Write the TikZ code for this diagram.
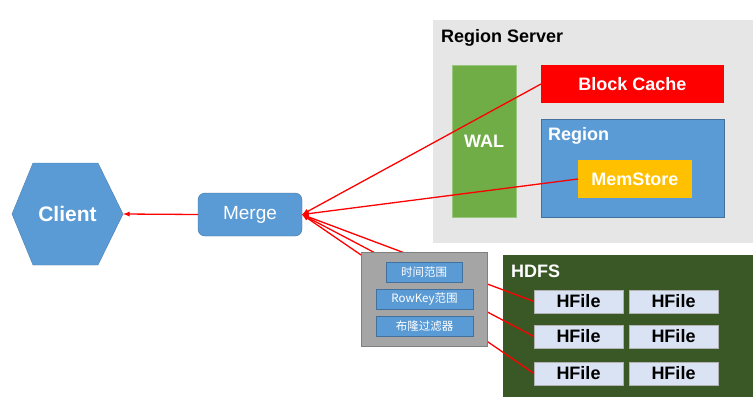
\documentclass[tikz,border=0pt]{standalone}
\usepackage{fontspec}
\setmainfont{Liberation Sans}
\newfontfamily\cjk{Noto Sans CJK SC}
\usepackage{tikz}

\definecolor{srvgray}{HTML}{E7E6E6}
\definecolor{walgreen}{HTML}{70AD47}
\definecolor{boxblue}{HTML}{5B9BD5}
\definecolor{blueedge}{HTML}{41719C}
\definecolor{memgold}{HTML}{FFC000}
\definecolor{hdfsgreen}{HTML}{3A5826}
\definecolor{hfilefill}{HTML}{DAE3F3}
\definecolor{filtergray}{HTML}{A5A5A5}

\begin{document}
\begin{tikzpicture}[x=1pt,y=-1pt,>=latex,
        area/.style={inner sep=0pt,outer sep=0pt},
        title/.style={anchor=west,inner sep=0pt,font=\fontsize{18}{20}\selectfont\bfseries},
        part/.style={area,text=white,font=\fontsize{18}{20}\selectfont\bfseries},
        hfile/.style={area,draw=gray!60,fill=hfilefill,minimum width=89pt,minimum height=23pt,font=\fontsize{18}{20}\selectfont\bfseries},
        cond/.style={area,draw=blueedge,fill=boxblue,text=white,minimum height=20pt,font=\cjk\fontsize{11.5}{13}\selectfont},
        readline/.style={red,line width=1.3pt,->}
    ]

    \useasboundingbox (0,0) rectangle (753,402);

    % region server
    \node[area,fill=srvgray,minimum width=320pt,minimum height=223pt] (server) at (593,131.5) {};
    \node[title] (servertitle) at (441,38) {Region Server};
    \node[part,fill=walgreen,draw=walgreen!70!white,minimum width=64pt,minimum height=152pt] (wal) at (484,141) {WAL};
    \node[part,fill=red,minimum width=183pt,minimum height=38pt] (cache) at (632.5,84) {Block Cache};
    \node[part,fill=boxblue,draw=blueedge,minimum width=183pt,minimum height=98pt] (region) at (632.5,168) {};
    \node[title,text=white] (regiontitle) at (548,136) {Region};
    \node[part,fill=memgold,minimum width=114pt,minimum height=38pt] (memstore) at (635,179) {MemStore};

    % hdfs
    \node[area,fill=hdfsgreen,minimum width=250pt,minimum height=142pt] (hdfs) at (628,326) {};
    \node[title,text=white] (hdfstitle) at (511,271) {HDFS};
    \node[hfile] (hfile1) at (578.5,301.5) {HFile};
    \node[hfile] (hfile2) at (673.5,301.5) {HFile};
    \node[hfile] (hfile3) at (578.5,336.5) {HFile};
    \node[hfile] (hfile4) at (673.5,336.5) {HFile};
    \node[hfile] (hfile5) at (578.5,373.5) {HFile};
    \node[hfile] (hfile6) at (673.5,373.5) {HFile};

    % client and merge
    \draw[fill=boxblue,draw=blueedge!70!boxblue] (12,214) -- (33,163) -- (98,163) -- (123,214) -- (98,265) -- (33,265) -- cycle;
    \node[part,font=\fontsize{21}{24}\selectfont\bfseries] (client) at (67.5,214) {Client};
    \coordinate (clienttip) at (123,214);
    \node[area,draw=blueedge,fill=boxblue,rounded corners=7pt,text=white,minimum width=104pt,minimum height=43pt,font=\fontsize{19}{22}\selectfont] (merge) at (250,214.5) {Merge};

    \draw[red,line width=1.3pt,->] (merge.west) -- (clienttip);

    \draw[readline] (cache.west) -- (merge.east);
    \draw[readline] (memstore.west) -- (merge.east);
    \draw[readline] (hfile1.west) -- (merge.east);
    \draw[readline] (hfile3.west) -- (merge.east);
    \draw[readline] (hfile5.west) -- (merge.east);

    % filters
    \node[area,fill=filtergray,draw=gray,minimum width=126pt,minimum height=94pt] (filter) at (424,299) {};
    \node[cond,minimum width=76pt] (timerange) at (424,272) {时间范围};
    \node[cond,minimum width=97pt] (keyrange) at (424.5,299.5) {RowKey范围};
    \node[cond,minimum width=97pt] (bloom) at (424.5,326) {布隆过滤器};

\end{tikzpicture}
\end{document}
